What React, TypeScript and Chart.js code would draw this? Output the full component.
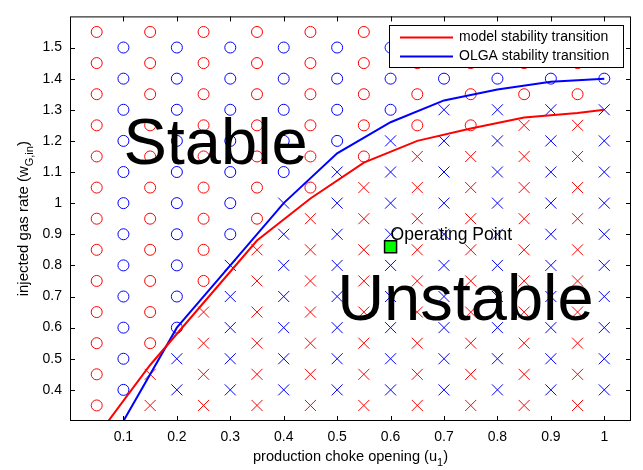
import { useEffect, useRef } from "react";
import { Chart, registerables } from "chart.js";

Chart.register(...registerables);

const FONT = "'Liberation Sans', Arial, Helvetica, sans-serif";

// Axis ticks
const xTickValues = [0.1, 0.2, 0.3, 0.4, 0.5, 0.6, 0.7, 0.8, 0.9, 1];
const yTickValues = [0.4, 0.5, 0.6, 0.7, 0.8, 0.9, 1, 1.1, 1.2, 1.3, 1.4, 1.5];

// Model simulation grid (red): choke openings, gas rates and, per column,
// the lowest gas rate at which the model is stable
const modelGridU = [0.05, 0.15, 0.25, 0.35, 0.45, 0.55, 0.65, 0.75, 0.85, 0.95];
const modelGridW = [0.35, 0.45, 0.55, 0.65, 0.75, 0.85, 0.95, 1.05, 1.15, 1.25, 1.35, 1.45, 1.55];
const modelStableFrom = [0.35, 0.55, 0.75, 0.95, 1.05, 1.15, 1.25, 1.25, 1.35, 1.35];

// OLGA simulation grid (blue)
const olgaGridU = [0.1, 0.2, 0.3, 0.4, 0.5, 0.6, 0.7, 0.8, 0.9, 1];
const olgaGridW = [0.4, 0.5, 0.6, 0.7, 0.8, 0.9, 1, 1.1, 1.2, 1.3, 1.4, 1.5];
const olgaStableFrom = [0.4, 0.6, 0.9, 1.1, 1.2, 1.3, 1.4, 1.4, 1.4, 1.4];

// Stability transition curves
const modelCurveU = [0.05, 0.15, 0.25, 0.35, 0.45, 0.55, 0.65, 0.75, 0.85, 0.95, 1];
const modelCurveW = [0.25, 0.48, 0.68, 0.88, 1.015, 1.13, 1.2, 1.24, 1.275, 1.29, 1.3];
const olgaCurveU = [0.1, 0.2, 0.3, 0.4, 0.5, 0.6, 0.7, 0.8, 0.9, 1];
const olgaCurveW = [0.3, 0.6, 0.8, 1.0, 1.16, 1.26, 1.33, 1.365, 1.39, 1.4];

// Operating point
const operatingU = [0.6];
const operatingW = [0.86];

const RED = "#ff0000";
const BLUE = "#0000ff";

type Pt = { x: number; y: number };

function gridPoints(us: number[], ws: number[], stableFrom: number[], stable: boolean): Pt[] {
  const out: Pt[] = [];
  us.forEach((u, i) => {
    ws.forEach((w) => {
      const isStable = w >= stableFrom[i] - 1e-9;
      if (isStable === stable) out.push({ x: u, y: w });
    });
  });
  return out;
}

const zip = (xs: number[], ys: number[]): Pt[] => xs.map((x, i) => ({ x, y: ys[i] }));

type Part = { t: string; sub?: boolean };

function drawRich(ctx: CanvasRenderingContext2D, parts: Part[], x: number, y: number, size: number) {
  const subSize = Math.round(size * 0.72);
  const widths = parts.map((p) => {
    ctx.font = `${p.sub ? subSize : size}px ${FONT}`;
    return ctx.measureText(p.t).width;
  });
  const total = widths.reduce((a, b) => a + b, 0);
  let cx = x - total / 2;
  ctx.textAlign = "left";
  ctx.textBaseline = "alphabetic";
  parts.forEach((p, i) => {
    ctx.font = `${p.sub ? subSize : size}px ${FONT}`;
    ctx.fillText(p.t, cx, p.sub ? y + size * 0.32 : y);
    cx += widths[i];
  });
}

const overlay = {
  id: "overlay",
  afterDatasetsDraw(chart: any) {
    const { ctx, chartArea: a, scales } = chart;
    const xs = scales.x;
    const ys = scales.y;
    ctx.save();
    ctx.fillStyle = "#000";
    ctx.strokeStyle = "#000";

    // Region labels
    ctx.font = `65px ${FONT}`;
    ctx.textAlign = "left";
    ctx.textBaseline = "alphabetic";
    ctx.fillText("Stable", xs.getPixelForValue(0.1), ys.getPixelForValue(1.2) + 23);
    ctx.fillText("Unstable", xs.getPixelForValue(0.5), ys.getPixelForValue(0.7) + 23);

    // Operating point label
    ctx.font = `17.5px ${FONT}`;
    ctx.fillText("Operating Point", xs.getPixelForValue(0.6), ys.getPixelForValue(0.9) + 6);

    // Axes box
    ctx.lineWidth = 1;
    ctx.strokeRect(a.left + 0.5, a.top + 0.5, a.right - a.left - 1, a.bottom - a.top - 1);

    // Inward ticks on all four sides
    const tl = 5;
    ctx.beginPath();
    xTickValues.forEach((v) => {
      const px = Math.round(xs.getPixelForValue(v)) + 0.5;
      ctx.moveTo(px, a.bottom);
      ctx.lineTo(px, a.bottom - tl);
      ctx.moveTo(px, a.top);
      ctx.lineTo(px, a.top + tl);
    });
    yTickValues.forEach((v) => {
      const py = Math.round(ys.getPixelForValue(v)) + 0.5;
      ctx.moveTo(a.left, py);
      ctx.lineTo(a.left + tl, py);
      ctx.moveTo(a.right, py);
      ctx.lineTo(a.right - tl, py);
    });
    ctx.stroke();

    // Legend
    const lw = 234;
    const lh = 42;
    const lx = a.right - 8 - lw;
    const ly = a.top + 9;
    ctx.fillStyle = "#fff";
    ctx.fillRect(lx, ly, lw, lh);
    ctx.strokeStyle = "#000";
    ctx.lineWidth = 1;
    ctx.strokeRect(Math.round(lx) + 0.5, Math.round(ly) + 0.5, lw, lh);
    const items = [
      { label: chart.data.datasets[1].label, color: RED },
      { label: chart.data.datasets[2].label, color: BLUE },
    ];
    ctx.font = `14px ${FONT}`;
    ctx.textBaseline = "middle";
    items.forEach((it, i) => {
      const y = ly + 12 + i * 19;
      ctx.strokeStyle = it.color;
      ctx.lineWidth = 2;
      ctx.beginPath();
      ctx.moveTo(lx + 11, y);
      ctx.lineTo(lx + 64, y);
      ctx.stroke();
      ctx.fillStyle = "#000";
      ctx.fillText(it.label, lx + 70, y);
    });

    // Axis titles
    ctx.fillStyle = "#000";
    drawRich(
      ctx,
      [{ t: "production choke opening (u" }, { t: "1", sub: true }, { t: ")" }],
      (a.left + a.right) / 2,
      461,
      14.6
    );
    ctx.save();
    ctx.translate(28, (a.top + a.bottom) / 2);
    ctx.rotate(-Math.PI / 2);
    drawRich(ctx, [{ t: "injected gas rate (w" }, { t: "G,in", sub: true }, { t: ")" }], 0, 0, 15);
    ctx.restore();

    ctx.restore();
  },
};

export default function App() {
  const canvasRef = useRef<HTMLCanvasElement | null>(null);

  useEffect(() => {
    const canvas = canvasRef.current;
    if (!canvas) return;

    const circleStyle = {
      pointStyle: "circle",
      pointRadius: 5.5,
      pointBorderWidth: 1,
      pointBackgroundColor: "rgba(0,0,0,0)",
      showLine: false,
      order: 3,
    };
    const crossStyle = {
      pointStyle: "crossRot",
      pointRadius: 7.8,
      pointBorderWidth: 1,
      showLine: false,
      order: 3,
    };

    const chart = new Chart(canvas, {
      type: "scatter",
      data: {
        datasets: [
          {
            label: "operating point",
            data: zip(operatingU, operatingW),
            pointStyle: "rect",
            pointRadius: 8.5,
            pointBorderWidth: 1.5,
            pointBackgroundColor: "#00ff00",
            pointBorderColor: "#000",
            showLine: false,
            order: 0,
          } as any,
          {
            label: "model stability transition",
            data: zip(modelCurveU, modelCurveW),
            showLine: true,
            borderColor: RED,
            borderWidth: 2,
            pointRadius: 0,
            tension: 0,
            order: 1,
          },
          {
            label: "OLGA stability transition",
            data: zip(olgaCurveU, olgaCurveW),
            showLine: true,
            borderColor: BLUE,
            borderWidth: 2,
            pointRadius: 0,
            tension: 0,
            order: 1,
          },
          {
            label: "model stable",
            data: gridPoints(modelGridU, modelGridW, modelStableFrom, true),
            pointBorderColor: RED,
            ...circleStyle,
          } as any,
          {
            label: "model unstable",
            data: gridPoints(modelGridU, modelGridW, modelStableFrom, false),
            pointBorderColor: RED,
            ...crossStyle,
          } as any,
          {
            label: "OLGA stable",
            data: gridPoints(olgaGridU, olgaGridW, olgaStableFrom, true),
            pointBorderColor: BLUE,
            ...circleStyle,
          } as any,
          {
            label: "OLGA unstable",
            data: gridPoints(olgaGridU, olgaGridW, olgaStableFrom, false),
            pointBorderColor: BLUE,
            ...crossStyle,
          } as any,
        ],
      },
      options: {
        responsive: false,
        animation: false,
        events: [],
        layout: { padding: { top: 1, right: 12, left: 0, bottom: 0 } },
        plugins: {
          legend: { display: false },
          tooltip: { enabled: false },
        },
        scales: {
          x: {
            type: "linear",
            min: 0,
            max: 1.05,
            afterBuildTicks: (s: any) => {
              s.ticks = xTickValues.map((v) => ({ value: v }));
            },
            afterFit: (s: any) => {
              s.height = 49;
            },
            grid: { display: false, drawTicks: false },
            border: { display: false },
            ticks: {
              padding: 8,
              color: "#000",
              font: { family: FONT, size: 14 },
              maxRotation: 0,
              callback: (v: any) => `${+Number(v).toFixed(1)}`,
            },
          },
          y: {
            type: "linear",
            min: 0.3,
            max: 1.6,
            afterBuildTicks: (s: any) => {
              s.ticks = yTickValues.map((v) => ({ value: v }));
            },
            afterFit: (s: any) => {
              s.width = 70;
            },
            grid: { display: false, drawTicks: false },
            border: { display: false },
            ticks: {
              padding: 8,
              color: "#000",
              font: { family: FONT, size: 14 },
              callback: (v: any) => `${+Number(v).toFixed(1)}`,
            },
          },
        },
      },
      plugins: [overlay],
    });

    return () => chart.destroy();
  }, []);

  return (
    <div style={{ position: "absolute", left: 0, top: 0, width: 643, height: 470, background: "#fff" }}>
      <canvas ref={canvasRef} width={643} height={470} style={{ display: "block" }} />
    </div>
  );
}
